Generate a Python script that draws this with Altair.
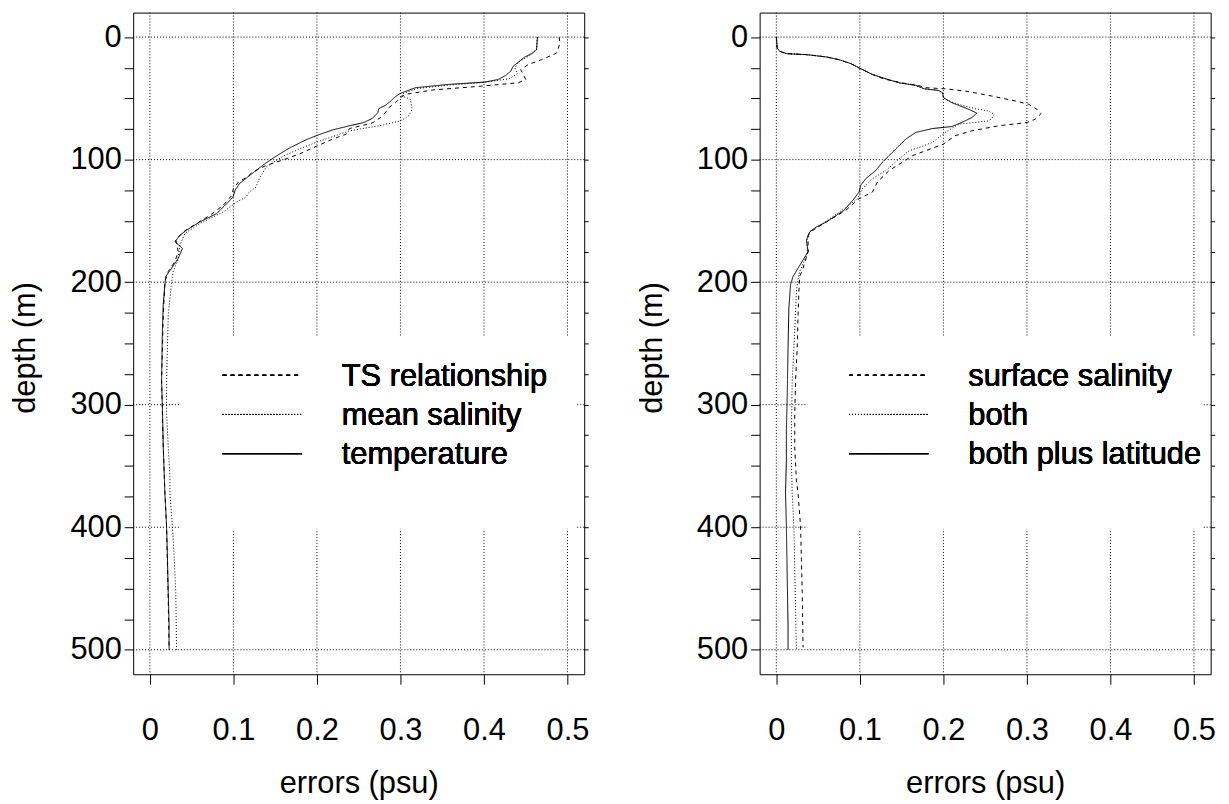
import altair as alt
import pandas as pd

FONT = "Liberation Sans"

# ---------------- left panel data ----------------
ts_depth = [0, 5, 13, 18.4, 22.4, 26.5, 30.5, 34.6, 37.3, 40, 43.2, 46.7, 49.4, 53.5, 57.6,
            61.6, 65.7, 70.2, 74.6, 79.2, 83.2, 88.6, 95.4, 99.4, 104.8, 110.2, 114.3, 118.3,
            123.7, 129.2, 137.2, 145.4, 152.1, 158.9, 165.6, 175.1, 183.2, 191.3, 199.4,
            226.4, 280.4, 334.5, 372, 400, 430, 460, 500]
ts_err = [0.490, 0.491, 0.487, 0.469, 0.453, 0.444, 0.447, 0.450, 0.441, 0.397, 0.338, 0.306,
          0.300, 0.294, 0.286, 0.282, 0.276, 0.266, 0.239, 0.235, 0.219, 0.201, 0.179, 0.163,
          0.139, 0.123, 0.116, 0.106, 0.100, 0.098, 0.088, 0.072, 0.056, 0.040, 0.031, 0.034,
          0.030, 0.022, 0.018, 0.016, 0.014, 0.016, 0.018, 0.020, 0.021, 0.022, 0.023]

ms_depth = [0, 10, 15, 20, 25, 30, 34, 37, 39, 42, 46, 48.1, 50.8, 58.9, 64.3, 68.4, 71.9,
            76.5, 85.9, 91.3, 96.7, 100.8, 106.2, 115.6, 122.4, 126.5, 130.5, 134.6, 142.7,
            152.1, 160.2, 169.6, 180.5, 191.3, 199.4, 207.5, 226.4, 253.4, 280.4, 307.4,
            334.5, 358.8, 372.3, 399.3, 423.6, 453.3, 500]
ms_err = [0.464, 0.463, 0.455, 0.442, 0.437, 0.440, 0.430, 0.400, 0.360, 0.320, 0.303, 0.302,
          0.312, 0.314, 0.310, 0.300, 0.278, 0.239, 0.199, 0.179, 0.161, 0.151, 0.139, 0.131,
          0.127, 0.119, 0.115, 0.104, 0.088, 0.060, 0.042, 0.036, 0.034, 0.028, 0.026, 0.025,
          0.022, 0.021, 0.020, 0.020, 0.022, 0.024, 0.024, 0.027, 0.029, 0.031, 0.032]

tp_depth = [0, 10.3, 13.5, 16.2, 20.5, 23.8, 27.8, 31.3, 34.6, 36.7, 38.6, 41.3, 45.9, 48.6,
            52.4, 55.7, 58.4, 61.6, 66.5, 69.7, 72.4, 75.7, 80, 83.8, 90.5, 97.3, 102.7, 108.9,
            114.8, 119.7, 125.1, 130.5, 135.9, 144, 150.8, 157.5, 161.6, 167, 172.4, 180.5,
            188.6, 195.4, 202, 218.3, 239.9, 280.4, 302, 334.5, 372.3, 399.3, 423.6, 453.3,
            480.4, 500]
tp_err = [0.464, 0.463, 0.457, 0.449, 0.441, 0.435, 0.432, 0.426, 0.417, 0.401, 0.358, 0.318,
          0.300, 0.294, 0.288, 0.282, 0.274, 0.273, 0.266, 0.256, 0.239, 0.219, 0.201, 0.187,
          0.167, 0.151, 0.139, 0.127, 0.116, 0.107, 0.102, 0.0996, 0.092, 0.080, 0.060, 0.044,
          0.036, 0.030, 0.039, 0.034, 0.026, 0.019, 0.018, 0.016, 0.015, 0.014, 0.015, 0.016,
          0.018, 0.020, 0.021, 0.022, 0.023, 0.023]

# ---------------- right panel data ----------------
ss_depth = [0, 8.9, 11.6, 13.5, 14.3, 16.2, 18.4, 21.6, 25.1, 30.5, 34, 37.3, 39.5, 41.3, 42.2,
            44, 48.1, 52.1, 54.8, 58.9, 62.4, 67, 69.7, 72.4, 76.5, 80.5, 87.3, 92.7, 96.7,
            102.1, 108.9, 118.3, 126.5, 131.9, 141.4, 150.8, 157.5, 161.6, 175.1, 188.6, 195.4,
            207.5, 226.4, 253.4, 280.4, 307.4, 334.5, 361.5, 372.3, 399.3, 426.3, 453.3, 498]
ss_err = [0.0, 0.001, 0.004, 0.012, 0.036, 0.060, 0.075, 0.089, 0.099, 0.115, 0.128, 0.150,
          0.170, 0.179, 0.202, 0.226, 0.258, 0.286, 0.302, 0.312, 0.317, 0.310, 0.300, 0.266,
          0.234, 0.214, 0.200, 0.179, 0.163, 0.151, 0.135, 0.121, 0.115, 0.099, 0.083, 0.060,
          0.044, 0.038, 0.038, 0.032, 0.028, 0.027, 0.026, 0.025, 0.023, 0.022, 0.022, 0.024,
          0.026, 0.029, 0.030, 0.031, 0.032]

bo_depth = [0, 8.9, 11.6, 13.5, 14.3, 16.2, 18.4, 21.6, 25.1, 30.5, 34, 37.3, 39.4, 42.2, 43.5,
            45.4, 49.4, 52, 54.8, 58.4, 60.3, 63, 66.5, 68.4, 71.1, 77.8, 85.9, 90, 92.7, 99.4,
            108.9, 115.6, 123.7, 131.9, 137.2, 152.1, 158.9, 167, 175.1, 191.3, 196.7, 207.5,
            239.9, 280.4, 320.9, 345.3, 372.3, 399.3, 434.4, 466.8, 500]
bo_err = [0.0, 0.001, 0.004, 0.012, 0.036, 0.060, 0.075, 0.089, 0.099, 0.115, 0.131, 0.147,
          0.167, 0.177, 0.194, 0.199, 0.200, 0.206, 0.218, 0.238, 0.254, 0.261, 0.258, 0.254,
          0.218, 0.202, 0.187, 0.171, 0.159, 0.147, 0.131, 0.115, 0.103, 0.097, 0.087, 0.056,
          0.040, 0.036, 0.038, 0.028, 0.026, 0.024, 0.022, 0.019, 0.018, 0.018, 0.019, 0.021,
          0.022, 0.023, 0.024]

bl_depth = [0, 8.9, 11.6, 13.5, 14.3, 16.2, 18.4, 21.6, 25.1, 30.5, 34, 37.3, 39.4, 42.2, 43.5,
            45.4, 49.4, 53.5, 56.7, 59.4, 62.1, 65.7, 69.7, 73, 74.6, 77.8, 83.2, 88.6, 96.7,
            102.1, 108.9, 115.6, 121, 126.5, 131.9, 141.4, 150.8, 154.9, 158.9, 165.6, 175.1,
            188.6, 195.4, 202, 221, 253.4, 294, 321, 345, 372, 399, 440, 480, 500]
bl_err = [0.0, 0.001, 0.004, 0.012, 0.036, 0.060, 0.075, 0.089, 0.099, 0.115, 0.131, 0.147,
          0.167, 0.177, 0.194, 0.199, 0.200, 0.210, 0.222, 0.232, 0.240, 0.234, 0.222, 0.210,
          0.187, 0.167, 0.155, 0.147, 0.135, 0.127, 0.119, 0.107, 0.101, 0.099, 0.093, 0.081,
          0.060, 0.048, 0.040, 0.036, 0.038, 0.026, 0.020, 0.017, 0.015, 0.014, 0.013, 0.012,
          0.012, 0.011, 0.012, 0.013, 0.014, 0.014]

left_labels = ["TS relationship", "mean salinity", "temperature"]
right_labels = ["surface salinity", "both", "both plus latitude"]

x_ticks = [0, 0.1, 0.2, 0.3, 0.4, 0.5]
y_major = [0, 100, 200, 300, 400, 500]
y_minor = list(range(0, 501, 25))

DASHES = [[4, 4], [1, 2], [1, 0]]


def make_df(series, labels):
    rows = []
    for lab, (dep, err) in zip(labels, series):
        for i, (d, e) in enumerate(zip(dep, err)):
            rows.append({"series": lab, "depth": d, "err": e, "i": i})
    return pd.DataFrame(rows)


xs = alt.Scale(domain=[-0.02, 0.52], nice=False, zero=False)
ys = alt.Scale(domain=[-20, 520], reverse=True, nice=False, zero=False)

x_axis = alt.Axis(values=x_ticks, format="~g", grid=False, domain=False, tickSize=10,
                  tickColor="black", labelFontSize=31, labelFont=FONT, labelColor="black",
                  labelPadding=32, title="errors (psu)", titleFontSize=31, titleFont=FONT,
                  titleFontWeight="normal", titleColor="black", titleY=110,
                  titleBaseline="middle")
y_axis_left = alt.Axis(values=y_minor, labelExpr="datum.value % 100 == 0 ? datum.label : ''",
                       format="d", grid=False, domain=False, tickSize=9, tickColor="black",
                       labelFontSize=31, labelFont=FONT, labelColor="black", labelPadding=3,
                       title="depth (m)", titleFontSize=31, titleFont=FONT,
                       titleFontWeight="normal", titleColor="black", titleAngle=270,
                       titleX=-108, titleY=337, titleBaseline="middle", titleAlign="center")
y_axis_right = alt.Axis(values=y_minor, labels=False, grid=False, domain=False, tickSize=4,
                        tickColor="black", title=None, orient="right")


def panel(series, labels):
    df = make_df(series, labels)
    gx = pd.DataFrame({"err": x_ticks})
    gy = pd.DataFrame({"depth": y_major})

    vgrid = alt.Chart(gx).mark_rule(color="black", strokeDash=[1, 2], strokeWidth=1).encode(
        x=alt.X("err:Q", scale=xs, axis=x_axis))
    hgrid = alt.Chart(gy).mark_rule(color="black", strokeDash=[1, 2], strokeWidth=1).encode(
        y=alt.Y("depth:Q", scale=ys, axis=y_axis_right))
    box = alt.Chart(gx).mark_rect(color="white").encode(
        x=alt.value(48.5), x2=alt.value(445.5), y=alt.value(327), y2=alt.value(519))
    lines = alt.Chart(df).mark_line(color="black", strokeWidth=1).encode(
        x=alt.X("err:Q", scale=xs, axis=x_axis),
        y=alt.Y("depth:Q", scale=ys, axis=y_axis_left),
        strokeDash=alt.StrokeDash("series:N", scale=alt.Scale(domain=labels, range=DASHES),
                                  legend=None),
        detail="series:N",
        order="i:Q",
    )
    layers = [vgrid, hgrid, box, lines]
    sample_y = [365, 404.5, 444]
    text_y = [376, 415, 454]
    for k, lab in enumerate(labels):
        layers.append(alt.Chart(gx).mark_rule(color="black", strokeWidth=1,
                                              strokeDash=DASHES[k]).encode(
            x=alt.value(90), x2=alt.value(170), y=alt.value(sample_y[k])))
        layers.append(alt.Chart(gx).mark_text(align="left", baseline="alphabetic", fontSize=31,
                                              font=FONT, color="black").encode(
            x=alt.value(210), y=alt.value(text_y[k]), text=alt.value(lab)))
    return alt.layer(*layers).resolve_axis(y="independent").properties(width=454, height=666)


left = panel([(ts_depth, ts_err), (ms_depth, ms_err), (tp_depth, tp_err)], left_labels)
right = panel([(ss_depth, ss_err), (bo_depth, bo_err), (bl_depth, bl_err)], right_labels)

chart = alt.hconcat(left, right, spacing=176.6, bounds="flush").properties(
    padding={"left": 1, "top": 1, "right": 5, "bottom": 5},
    background="white",
).configure_view(stroke="black", strokeWidth=1)

chart.save("out.html", embed_options={"renderer": "svg", "actions": False})
